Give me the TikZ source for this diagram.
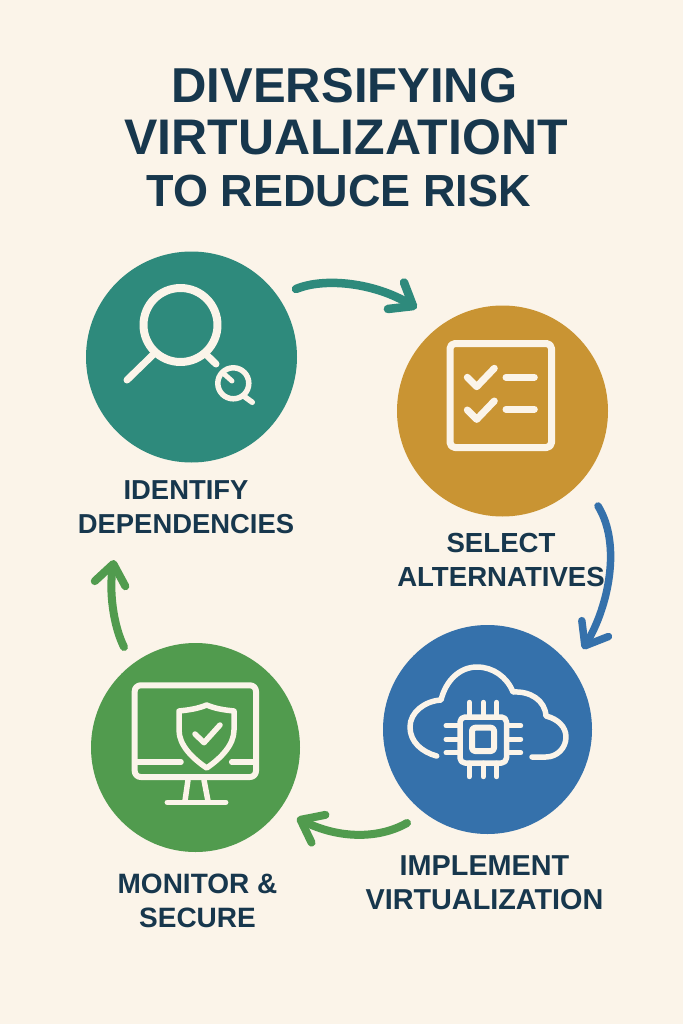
\documentclass[tikz,border=0pt]{standalone}
\usepackage{fontspec}
\setmainfont{Liberation Sans}[BoldFont={Liberation Sans Bold}]
\usetikzlibrary{arrows.meta}
\definecolor{bgc}{HTML}{FBF4E9}
\definecolor{inkc}{HTML}{17374D}
\definecolor{tealc}{HTML}{2E8A7C}
\definecolor{ochrec}{HTML}{C99433}
\definecolor{bluec}{HTML}{3571AB}
\definecolor{greenc}{HTML}{519B4E}
\tikzset{
  disc/.style={circle,inner sep=0pt,outer sep=0pt,minimum size=#1},
  icon/.style={draw=bgc,line width=#1,line cap=round,line join=round,fill=none},
  titletext/.style={inner sep=0pt,text=inkc,font=\fontsize{#1}{#1}\selectfont\bfseries,anchor=base},
  labeltext/.style={inner sep=0pt,text=inkc,align=center,font=\fontsize{#1}{33.5}\selectfont\bfseries,anchor=base},
  flow/.style={line width=#1,line cap=round,-{Straight Barb[length=20pt,width=31pt,line width=#1,line cap=round,line join=round]}}
}
\begin{document}
\begin{tikzpicture}[x=1pt,y=-1pt]
\useasboundingbox (0,0) rectangle (683,1024);
\fill[bgc] (0,0) rectangle (683,1024);
% title
\node[titletext=49] (t1) at (344.5,103) {DIVERSIFYING};
\node[titletext=50] (t2) at (346,155) {VIRTUALIZATIONT};
\node[titletext=45] (t3) at (338.5,207) {TO REDUCE RISK};
% discs
\node[disc=211pt,fill=tealc] (identify) at (191.5,357) {};
\node[disc=211pt,fill=ochrec] (select) at (502.5,411) {};
\node[disc=209pt,fill=bluec] (implement) at (487.5,729.5) {};
\node[disc=209pt,fill=greenc] (monitor) at (195.5,747.5) {};
% labels
\node[labeltext=27.4] (l1) at (186,533) {IDENTIFY\\DEPENDENCIES};
\node[labeltext=27.6] (l2) at (501,586) {SELECT\\ALTERNATIVES};
\node[labeltext=28.8] (l3) at (484.5,909) {IMPLEMENT\\VIRTUALIZATION};
\node[labeltext=28] (l4) at (197.5,927) {MONITOR \&\\SECURE};
% connectors
\coordinate (a1) at (296,289); \coordinate (a2) at (416.7,308.3);
\coordinate (b1) at (598,506); \coordinate (b2) at (583,649);
\coordinate (c1) at (407,823); \coordinate (c2) at (297,818);
\coordinate (d1) at (124,647); \coordinate (d2) at (114,560);
\draw[flow=8.5pt,draw=tealc] (a1) .. controls (325,277) and (375,283) .. (a2);
\draw[flow=7.5pt,draw=bluec] (b1) .. controls (622,545) and (608,607) .. (b2);
\draw[flow=8pt,draw=greenc] (c1) .. controls (377,840) and (337,838) .. (c2);
\draw[flow=8pt,draw=greenc] (d1) .. controls (113,625) and (109,590) .. (d2);
% magnifier icon
\draw[icon=8pt] (180.5,325) circle (37);
\draw[icon=7pt] (152.7,355) -- (127,380);
\draw[icon=7pt] (206.7,355) -- (216,364);
\draw[icon=5.5pt] (233.3,383.3) circle (15.5);
\draw[icon=5.5pt] (245,397) -- (252.3,402.3);
\draw[icon=5pt] (223,373) -- (232,381);
% checklist icon
\draw[icon=7pt,rounded corners=5pt] (450,343.5) rectangle (551.5,447.5);
\draw[icon=7pt] (467.3,377.3) -- (476.7,386.7) -- (494.3,368.3);
\draw[icon=7pt] (467.3,410) -- (476.7,419.4) -- (494.3,401);
\draw[icon=7pt] (506,377.3) -- (534.3,377.3);
\draw[icon=7pt] (506,409.3) -- (534.3,409.3);
% cloud and chip icon
\draw[icon=5.5pt] (436.7,756) .. controls (422,752) and (410,742) .. (410,727)
  .. controls (410,712) and (425,701) .. (441,700)
  .. controls (446,680) and (460,667) .. (477,667)
  .. controls (493,667) and (507,677) .. (513,692)
  .. controls (530,691) and (545,700) .. (546,716)
  .. controls (558,719) and (566,727) .. (566,737)
  .. controls (566,748) and (557,757) .. (546,757) -- (532,757);
\draw[icon=5.5pt,rounded corners=5pt] (460,717) rectangle (506.5,763);
\draw[icon=6pt,rounded corners=3pt] (472,727.7) rectangle (494,751);
\foreach \px in {469.3,483.3,496.7}{
  \draw[icon=5pt] (\px,702.3) -- (\px,717);
  \draw[icon=5pt] (\px,763) -- (\px,776.7);
}
\foreach \py in {725.7,739.3,752.7}{
  \draw[icon=5pt] (446,\py) -- (460,\py);
  \draw[icon=5pt] (506.5,\py) -- (520.7,\py);
}
% monitor and shield icon
\draw[icon=6pt,rounded corners=6pt] (134.7,685.3) rectangle (256,777);
\draw[icon=5.5pt] (134.7,762) -- (181,762);
\draw[icon=5.5pt] (231.7,762) -- (256,762);
\draw[icon=5.5pt] (188,780) -- (185,801);
\draw[icon=5.5pt] (204,780) -- (208,801);
\draw[icon=5.5pt] (167.3,802.3) -- (225.7,802.3);
\draw[icon=5.5pt] (206.7,705) .. controls (197,709) and (188,710) .. (179,711)
  -- (179,730) .. controls (179,745) and (192,758) .. (206.7,768)
  .. controls (221,758) and (234,745) .. (234,730) -- (234,711)
  .. controls (225,710) and (216,709) .. cycle;
\draw[icon=5.5pt] (195,734) -- (204,742.7) -- (220,725);
\end{tikzpicture}
\end{document}
